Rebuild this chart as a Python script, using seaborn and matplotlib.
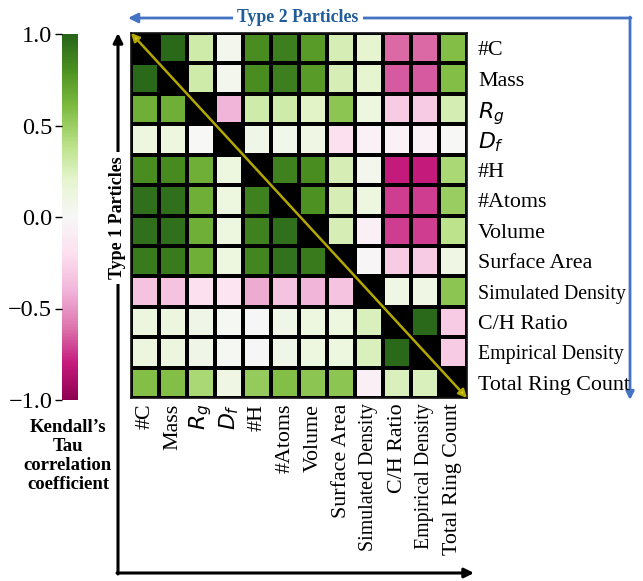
import numpy as np
import pandas as pd
import matplotlib.pyplot as plt
import seaborn as sns

plt.rcParams['font.family'] = ['Liberation Serif', 'DejaVu Serif']
plt.rcParams['mathtext.fontset'] = 'dejavusans'

# Feature names (rows = Type 1 particles, columns = Type 2 particles)
labels = ['#C', 'Mass', '$R_g$', '$D_f$', '#H', '#Atoms', 'Volume', 'Surface Area',
          'Simulated Density', 'C/H Ratio', 'Empirical Density', 'Total Ring Count']
small_labels = ['Simulated Density', 'Empirical Density']

# Kendall's tau values (diagonal is masked out)
tau_c = [1.00, 0.97, 0.30, 0.05, 0.82, 0.88, 0.75, 0.27, 0.20, -0.63, -0.63, 0.58]
tau_mass = [0.97, 1.00, 0.30, 0.05, 0.82, 0.88, 0.75, 0.27, 0.20, -0.66, -0.66, 0.58]
tau_rg = [0.66, 0.66, 1.00, -0.40, 0.30, 0.30, 0.22, 0.55, 0.12, -0.30, -0.30, 0.28]
tau_df = [0.12, 0.12, 0.00, 1.00, 0.08, 0.07, 0.10, -0.20, -0.05, -0.05, -0.05, 0.00]
tau_h = [0.82, 0.83, 0.66, 0.12, 1.00, 0.87, 0.82, 0.27, 0.06, -0.80, -0.80, 0.45]
tau_atoms = [0.95, 0.95, 0.66, 0.12, 0.87, 1.00, 0.80, 0.27, 0.12, -0.72, -0.72, 0.50]
tau_volume = [0.95, 0.95, 0.66, 0.12, 0.87, 0.95, 1.00, 0.27, -0.07, -0.72, -0.72, 0.38]
tau_surface = [0.90, 0.90, 0.66, 0.12, 0.85, 0.93, 0.90, 1.00, -0.02, -0.30, -0.30, 0.10]
tau_simdens = [-0.34, -0.34, -0.20, -0.17, -0.43, -0.34, -0.40, -0.34, 1.00, 0.10, 0.10, 0.55]
tau_ch = [0.13, 0.13, 0.08, 0.02, -0.01, 0.08, 0.12, 0.12, 0.25, 1.00, 0.97, -0.30]
tau_empdens = [0.13, 0.13, 0.08, 0.02, -0.01, 0.08, 0.12, 0.12, 0.25, 0.97, 1.00, -0.30]
tau_rings = [0.58, 0.58, 0.45, 0.10, 0.52, 0.58, 0.55, 0.55, -0.07, 0.25, 0.25, 1.00]

df = pd.DataFrame([tau_c, tau_mass, tau_rg, tau_df, tau_h, tau_atoms, tau_volume,
                   tau_surface, tau_simdens, tau_ch, tau_empdens, tau_rings],
                  index=labels, columns=labels)
mask = np.eye(len(labels), dtype=bool)

fig = plt.figure(figsize=(6.43, 5.81), dpi=100)

# overlay in pixel coordinates for the bracket arrows
over = fig.add_axes([0, 0, 1, 1])
over.set_xlim(0, 643)
over.set_ylim(581, 0)
over.axis('off')

ax = fig.add_axes([131 / 643, 1 - 398 / 581, 336 / 643, 365 / 581])
cax = fig.add_axes([62 / 643, 1 - 400 / 581, 16 / 643, 366 / 581])

sns.heatmap(df, mask=mask, cmap='PiYG', vmin=-1, vmax=1, linewidths=1.5,
            linecolor='black', ax=ax, cbar_ax=cax)
ax.set_facecolor('black')
for s in ax.spines.values():
    s.set_visible(True)
    s.set_color('#111111')
    s.set_linewidth(1.2)

ax.yaxis.tick_right()
ax.set_yticklabels(labels, rotation=0)
ax.set_xticklabels(labels, rotation=90)
ax.tick_params(axis='y', length=0, labelsize=15.8, pad=8)
ax.tick_params(axis='x', length=0, labelsize=15.8, pad=4)
for t in ax.get_yticklabels() + ax.get_xticklabels():
    if t.get_text() in small_labels:
        t.set_fontsize(14.3)

# yellow diagonal arrow along the diagonal
ax.annotate('', xy=(0, 0), xytext=(12, 12),
            arrowprops=dict(arrowstyle='<|-|>', color='#b3a800', lw=1.8,
                            mutation_scale=12, shrinkA=0, shrinkB=0, fc='#e8e000'))

# colorbar
cbar = ax.collections[0].colorbar
cbar.outline.set_visible(False)
cax.yaxis.set_ticks_position('left')
cax.set_yticks([-1, -0.5, 0, 0.5, 1])
cax.set_yticklabels(['\u22121.0', '\u22120.5', '0.0', '0.5', '1.0'])
cax.tick_params(labelsize=17.5, length=5, width=1, pad=2)
over.text(68, 456, "Kendall\u2019s\nTau\ncorrelation\ncoefficient", ha='center', va='center',
          fontsize=13.5, fontweight='bold', linespacing=1.15)

# Type 1 bracket (black)
over.annotate('', xy=(118, 33), xytext=(118, 574),
              arrowprops=dict(arrowstyle='-|>', color='black', lw=2.2, mutation_scale=14,
                              shrinkA=0, shrinkB=0))
over.annotate('', xy=(474, 573), xytext=(117, 573),
              arrowprops=dict(arrowstyle='-|>', color='black', lw=2.2, mutation_scale=14,
                              shrinkA=0, shrinkB=0))
over.text(118, 218, 'Type 1 Particles', rotation=90, ha='center', va='center',
          fontsize=13, fontweight='bold',
          bbox=dict(facecolor='white', edgecolor='none', pad=3))

# Type 2 bracket (blue)
over.annotate('', xy=(128, 18), xytext=(631, 18),
              arrowprops=dict(arrowstyle='-|>', color='#4472c4', lw=2.0, mutation_scale=14,
                              shrinkA=0, shrinkB=0))
over.annotate('', xy=(630, 400), xytext=(630, 17),
              arrowprops=dict(arrowstyle='-|>', color='#4472c4', lw=2.0, mutation_scale=12,
                              shrinkA=0, shrinkB=0))
over.text(298, 18, 'Type 2 Particles', ha='center', va='center', color='#1f5c99',
          fontsize=12.8, fontweight='bold',
          bbox=dict(facecolor='white', edgecolor='none', pad=3))

fig.savefig('out.png', dpi=100)
